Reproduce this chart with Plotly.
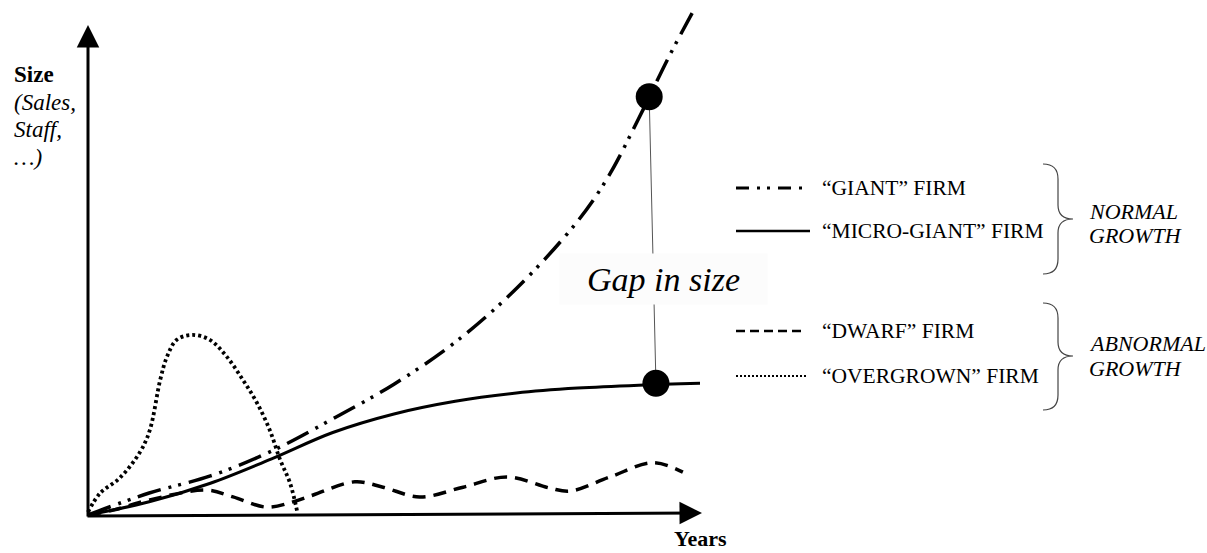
import plotly.graph_objects as go

# ---------------- data (years, size) ----------------
giant_years = [0, 1, 2, 3, 4, 5, 6, 7, 8, 8.5, 9, 9.5, 9.9]
giant_size = [0, 4.5, 8.0, 13.1, 19.7, 26.8, 35.4, 46.4, 60.2, 69.3, 81.3, 94.1, 103.5]

micro_years = [0, 1, 2, 3, 4, 5, 6, 7, 8, 9, 10]
micro_size = [0, 2.7, 6.5, 11.5, 16.9, 20.7, 23.3, 25.0, 26.0, 26.6, 27.0]

dwarf_years = [0, 0.41, 1.01, 1.94, 2.37, 2.92, 3.35, 3.68, 4.36, 4.82, 5.42,
               6.13, 6.85, 7.55, 7.88, 8.53, 9.23, 9.72]
dwarf_size = [0, 1.0, 3.1, 5.1, 3.7, 1.6, 2.7, 4.1, 6.8, 5.7, 3.7,
              5.7, 7.8, 5.5, 4.9, 7.8, 10.7, 8.8]

over_years = [0, 0.20, 0.52, 0.85, 1.01, 1.18, 1.29, 1.45, 1.70, 1.99, 2.27,
              2.53, 2.76, 2.97, 3.14, 3.30, 3.42]
over_size = [0.6, 4.5, 7.6, 12.9, 17.4, 27.7, 32.4, 35.9, 36.9, 35.9, 32.4,
             27.7, 23.0, 17.4, 11.3, 6.6, 0.6]

gap_years = [9.17, 9.28]
gap_size = [85.7, 27.0]

legend_labels = ["\u201cGIANT\u201d FIRM", "\u201cMICRO-GIANT\u201d FIRM",
                 "\u201cDWARF\u201d FIRM", "\u201cOVERGROWN\u201d FIRM"]
group_labels = [["NORMAL", "GROWTH"], ["ABNORMAL", "GROWTH"]]
y_title_lines = ["Size", "(Sales,", "Staff,", "\u2026)"]
x_title = "Years"
gap_label = "Gap in size"

# ---------------- layout helpers ----------------
W, H = 1207, 553
X0, XS = 88.0, 61.2      # pixel of year 0, pixels per year
Y0, YS = 515.0, 4.88     # pixel of size 0, pixels per size unit


def fx(px):
    return (px - X0) / XS


def fy(py):
    return (Y0 - py) / YS


FONT = "Liberation Serif, Times New Roman, serif"
BLACK = "#000000"

fig = go.Figure()

fig.add_trace(go.Scatter(x=giant_years, y=giant_size, mode="lines",
                         line=dict(color=BLACK, width=3.5, shape="spline",
                                   dash="24px,8px,3px,7px,3px,8px"),
                         showlegend=False, hoverinfo="skip"))
fig.add_trace(go.Scatter(x=micro_years, y=micro_size, mode="lines",
                         line=dict(color=BLACK, width=3, shape="spline"),
                         showlegend=False, hoverinfo="skip"))
fig.add_trace(go.Scatter(x=dwarf_years, y=dwarf_size, mode="lines",
                         line=dict(color=BLACK, width=3.5, shape="spline",
                                   dash="13px,8px"),
                         showlegend=False, hoverinfo="skip"))
fig.add_trace(go.Scatter(x=over_years, y=over_size, mode="lines",
                         line=dict(color=BLACK, width=3.8, shape="spline",
                                   dash="3px,3px"),
                         showlegend=False, hoverinfo="skip"))
# gap connector + dots
fig.add_trace(go.Scatter(x=gap_years, y=gap_size, mode="lines",
                         line=dict(color="#555555", width=1),
                         showlegend=False, hoverinfo="skip"))
fig.add_trace(go.Scatter(x=gap_years, y=gap_size, mode="markers",
                         marker=dict(color=BLACK, size=27),
                         showlegend=False, hoverinfo="skip"))

annotations = []
shapes = []

# axes arrows
annotations.append(dict(x=fx(88), y=fy(25), ax=fx(88), ay=fy(518),
                        xref="x", yref="y", axref="x", ayref="y", text="",
                        showarrow=True, arrowhead=2, arrowsize=1.5,
                        arrowwidth=3, arrowcolor=BLACK))
annotations.append(dict(x=fx(702), y=fy(513), ax=fx(86), ay=fy(516),
                        xref="x", yref="y", axref="x", ayref="y", text="",
                        showarrow=True, arrowhead=2, arrowsize=1.5,
                        arrowwidth=3, arrowcolor=BLACK))

# y title
y_centers = [74, 102, 129, 157]
for i, (t, yc) in enumerate(zip(y_title_lines, y_centers)):
    txt = "<b>%s</b>" % t if i == 0 else "<i>%s</i>" % t
    annotations.append(dict(x=fx(12), y=fy(yc), xref="x", yref="y", text=txt,
                            showarrow=False, xanchor="left", yanchor="middle",
                            font=dict(family=FONT, size=23, color=BLACK)))
# x title
annotations.append(dict(x=fx(700), y=fy(538), xref="x", yref="y",
                        text="<b>%s</b>" % x_title, showarrow=False,
                        xanchor="center", yanchor="middle",
                        font=dict(family=FONT, size=22, color=BLACK)))

# gap label
annotations.append(dict(x=fx(663), y=fy(279), xref="x", yref="y",
                        text="<i>%s</i>" % gap_label, showarrow=False,
                        xanchor="center", yanchor="middle",
                        width=205, height=48, bgcolor="#fcfcfc",
                        font=dict(family=FONT, size=34, color=BLACK)))

# legend samples + texts
leg_y = [188, 231, 331, 376]
leg_dash = ["13px,8px,3px,7px,3px,8px", "solid", "9px,5px", "2px,2px"]
leg_w = [3, 2.5, 2.5, 2]
leg_x1 = [802, 810, 803, 806]
for lab, yy, d, w, x1 in zip(legend_labels, leg_y, leg_dash, leg_w, leg_x1):
    shapes.append(dict(type="line", xref="x", yref="y", x0=fx(736), x1=fx(x1),
                       y0=fy(yy), y1=fy(yy),
                       line=dict(color=BLACK, width=w, dash=d)))
    annotations.append(dict(x=fx(820), y=fy(yy), xref="x", yref="y",
                            text=lab, showarrow=False, xanchor="left",
                            yanchor="middle",
                            font=dict(family=FONT, size=21.5, color=BLACK)))

# braces and group labels
for (top, tip, bot), (l1, l2), (c1, c2) in zip(
        [(164, 219, 274), (303, 356, 410)], group_labels,
        [(211, 235), (343, 368)]):
    xl, xm, xt = 1043, 1058, 1073
    pts = [
        ("M", [(xl, top)]),
        ("Q", [(xm, top), (xm, top + 15)]),
        ("L", [(xm, tip - 14)]),
        ("Q", [(xm, tip), (xt, tip)]),
        ("Q", [(xm, tip), (xm, tip + 14)]),
        ("L", [(xm, bot - 15)]),
        ("Q", [(xm, bot), (xl, bot)]),
    ]
    path = ""
    for cmd, pp in pts:
        path += cmd + " " + " ".join("%.5f,%.5f" % (fx(a), fy(b)) for a, b in pp) + " "
    shapes.append(dict(type="path", xref="x", yref="y", path=path.strip(),
                       line=dict(color="#444444", width=1.2)))
    for t, yc in ((l1, c1), (l2, c2)):
        annotations.append(dict(x=fx(1087), y=fy(yc), xref="x", yref="y",
                                text="<i>%s</i>" % t, showarrow=False,
                                xanchor="left", yanchor="middle",
                                font=dict(family=FONT, size=22, color=BLACK)))

fig.update_layout(
    width=W, height=H,
    margin=dict(l=0, r=0, t=0, b=0),
    paper_bgcolor="white", plot_bgcolor="white",
    xaxis=dict(range=[fx(0), fx(W)], visible=False, fixedrange=True),
    yaxis=dict(range=[fy(H), fy(0)], visible=False, fixedrange=True),
    annotations=annotations, shapes=shapes,
    showlegend=False,
)

fig.write_html("out.html", config={"displayModeBar": False},
               post_script="document.body.style.margin='0';")
